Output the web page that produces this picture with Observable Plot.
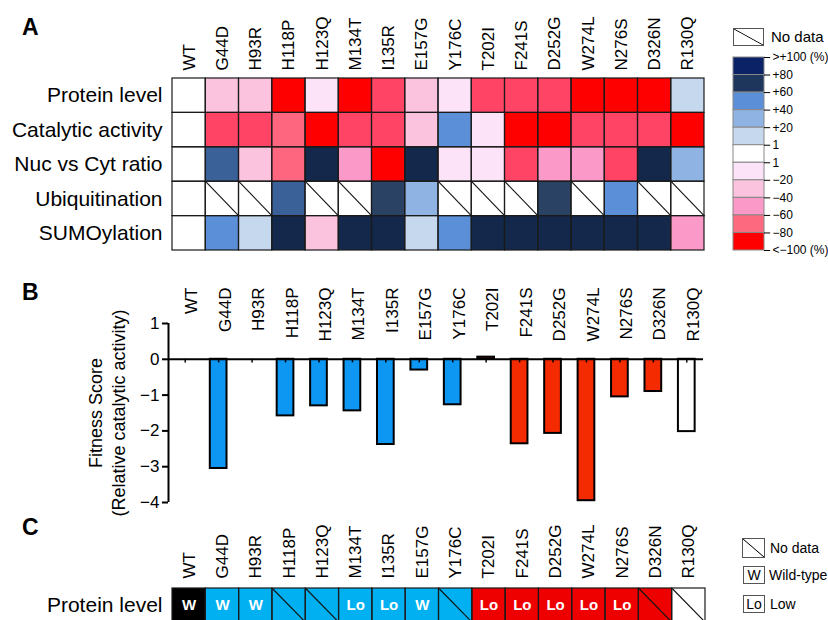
<!DOCTYPE html>
<html><head><meta charset="utf-8">
<script src="https://cdn.jsdelivr.net/npm/d3@7"></script>
<script src="https://cdn.jsdelivr.net/npm/@observablehq/plot@0.6"></script>
<style>
body{margin:0;background:#fff;font-family:"Liberation Sans",Arial,sans-serif;color:#000;}
#fig{position:relative;width:828px;height:620px;overflow:hidden;background:#fff;}
.abs{position:absolute;white-space:nowrap;}
.abs svg{overflow:visible;}
.letter{font-weight:bold;font-size:23px;line-height:1;}
.nd{border:1px solid #555;box-sizing:border-box;background:linear-gradient(to top right,transparent calc(50% - 0.8px),#000 50%,transparent calc(50% + 0.8px));}
.lg{font-size:15px;line-height:1;}
.lgc{font-size:14px;line-height:1;}
.bx{border:1px solid #555;box-sizing:border-box;font-size:14px;display:flex;align-items:center;justify-content:center;}
</style></head><body><div id="fig"></div>
<script>
// ---------- data ----------
const mutants = ["WT","G44D","H93R","H118P","H123Q","M134T","I135R","E157G","Y176C","T202I","F241S","D252G","W274L","N276S","D326N","R130Q"];
const rowLabels = ["Protein level","Catalytic activity","Nuc vs Cyt ratio","Ubiquitination","SUMOylation"];
// percent change vs WT (null = no data)
const proteinLevel = [0,-35,-35,-100,-15,-100,-75,-35,-15,-75,-75,-75,-100,-100,-100,15];
const catalyticActivity = [0,-75,-75,-65,-100,-75,-75,-35,50,-15,-100,-100,-75,-75,-75,-100];
const nucCytRatio = [0,65,-35,-65,90,-50,-100,90,-15,-15,-75,-50,-50,-75,90,35];
const ubiquitination = [0,null,null,65,null,null,75,35,null,null,null,75,null,50,null,null];
const sumoylation = [0,50,15,90,-35,90,90,15,50,90,90,90,90,90,90,-50];
const colorStops = [-100,-75,-65,-50,-35,-15,0,15,35,50,65,75,90,100];
const colorRange = ["#ff0000","#ff4466","#fe6680","#fb9ac8","#fbc3dd","#fde3f8","#ffffff","#c6d8ee","#8fb3e3","#5b8fd7","#3a6198","#2a4263","#13284b","#0b2366"];
const legendLabels = [">+100 (%)","+80","+60","+40","+20","1","1","\u221220","\u221240","\u221260","\u221280","<\u2212100 (%)"];
const legendColors = ["#0b2366","#1e355c","#5b8fd7","#8fb3e3","#c6d8ee","#ffffff","#fde3f8","#fbc3dd","#fb9ac8","#fd6a80","#ff0000"];
// panel B
const fitnessScore = [0,-3.05,null,-1.58,-1.3,-1.44,-2.38,-0.3,-1.27,0.06,-2.36,-2.07,-3.95,-1.05,-0.9,-2.02];
const groups = ["WT","G1","G1","G1","G1","G1","G1","G1","G1","G2","G2","G2","G2","G2","G2","G3"];
const yTicks = [1,0,-1,-2,-3,-4];
// panel C
const proteinClass = ["W","W","W",null,null,"Lo","Lo","W",null,"Lo","Lo","Lo","Lo","Lo",null,null];

const FONT = "Liberation Sans, Arial, sans-serif";
const fig = document.getElementById("fig");
function place(node, left, top){ const d=document.createElement("div"); d.className="abs"; d.style.left=left+"px"; d.style.top=top+"px"; d.appendChild(node); fig.appendChild(d); return d; }
function html(s, left, top, cls){ const d=document.createElement("div"); d.className="abs "+(cls||""); d.style.left=left+"px"; d.style.top=top+"px"; d.innerHTML=s; fig.appendChild(d); return d; }

// ---------- Panel A ----------
const rowsData = [proteinLevel, catalyticActivity, nucCytRatio, ubiquitination, sumoylation];
const cells = [];
rowsData.forEach((arr, r) => arr.forEach((v, i) => cells.push({i, r, v})));
const cellPos = {x1: "i", x2: d => d.i + 1, y1: "r", y2: d => d.r + 1};
const plotA = Plot.plot({
  width: 720, height: 262, marginLeft: 172, marginRight: 16, marginTop: 78, marginBottom: 12,
  x: {domain: [0, mutants.length], axis: null},
  y: {domain: [rowLabels.length, 0], axis: null},
  color: {type: "linear", domain: colorStops, range: colorRange, clamp: true},
  style: {fontFamily: FONT, background: "transparent", color: "#000"},
  marks: [
    Plot.rect(cells, {...cellPos, fill: "white"}),
    Plot.rect(cells.filter(d => d.v != null), {...cellPos, fill: "v"}),
    Plot.link(cells.filter(d => d.v == null), {x1: "i", y1: "r", x2: d => d.i + 1, y2: d => d.r + 1, stroke: "#111", strokeWidth: 1.1}),
    Plot.rect(cells, {...cellPos, fill: "none", stroke: "#1a1a1a", strokeWidth: 1.2}),
    Plot.text(mutants, {x: (d, i) => i + 0.5, y: 0, text: d => d, rotate: -90, textAnchor: "start", dy: -8, fontSize: 17, fill: "#000"}),
    Plot.text(rowLabels, {x: 0, y: (d, i) => i + 0.5, text: d => d, textAnchor: "end", dx: -10, fontSize: 21, fill: "#000"})
  ]
});
place(plotA, 0, 0);

// colour legend
const legendBoxes = legendColors.map((c, k) => ({k, c}));
const legendTicks = legendLabels.map((t, k) => ({k, t}));
const plotLeg = Plot.plot({
  width: 108, height: 270, marginLeft: 13, marginRight: 64, marginTop: 57, marginBottom: 20,
  x: {domain: [0, 1], axis: null},
  y: {domain: [legendColors.length, 0], axis: null},
  style: {fontFamily: FONT, background: "transparent"},
  marks: [
    Plot.rect(legendBoxes, {x1: 0, x2: 1, y1: "k", y2: d => d.k + 1, fill: "c", stroke: "#888", strokeWidth: 1}),
    Plot.ruleY(legendTicks, {y: "k", x1: 1, x2: 1.2, stroke: "#000", strokeWidth: 1}),
    Plot.text(legendTicks, {x: 1, y: "k", text: "t", dx: 8, textAnchor: "start", fontSize: 12, fill: "#000"})
  ]
});
place(plotLeg, 720, 0);
(function(){ const n = html("", 733, 28, "nd"); n.style.width="31px"; n.style.height="18px"; })();
html("No data", 771, 29, "lg");

// ---------- Panel B ----------
const bars = fitnessScore.map((v, i) => ({i, v, g: groups[i]}));
const plotB = Plot.plot({
  width: 720, height: 246, marginLeft: 168, marginRight: 17, marginTop: 59, marginBottom: 8,
  x: {domain: [0, mutants.length], axis: null},
  y: {domain: [-4, 1]},
  color: {type: "ordinal", domain: ["WT","G1","G2","G3"], range: ["#000000","#0d96f2","#f42a00","#ffffff"]},
  style: {fontFamily: FONT, background: "transparent", color: "#000"},
  marks: [
    Plot.rect(bars.filter(d => d.v != null && d.v !== 0), {x1: d => d.i + 0.25, x2: d => d.i + 0.75, y1: 0, y2: "v", fill: "g", stroke: "#000", strokeWidth: 2}),
    Plot.ruleY([0], {x1: 0, x2: mutants.length, stroke: "#000", strokeWidth: 2}),
    Plot.ruleX(bars, {x: d => d.i + 0.5, y1: 0, y2: -0.1, stroke: "#000", strokeWidth: 1.5}),
    Plot.ruleX([0], {y1: -4, y2: 1, stroke: "#000", strokeWidth: 2}),
    Plot.axisY({ticks: yTicks, tickSize: 6, tickPadding: 3, strokeWidth: 2, fontSize: 17, label: null, tickFormat: d => d < 0 ? "\u2212" + Math.abs(d) : String(d)}),
    Plot.text(["Fitness Score\n(Relative catalytic activity)"], {frameAnchor: "left", textAnchor: "middle", lineAnchor: "middle", dx: -62, rotate: -90, fontSize: 18, lineHeight: 1.28, fill: "#000"}),
    Plot.text(mutants, {x: (d, i) => i + 0.5, frameAnchor: "top", dy: -36, text: d => d, rotate: -90, textAnchor: "end", fontSize: 17, fill: "#000"})
  ]
});
place(plotB, 0, 264);

// ---------- Panel C ----------
const cCells = mutants.map((m, i) => ({i, g: groups[i], c: proteinClass[i]}));
const plotC = Plot.plot({
  width: 720, height: 130, marginLeft: 172, marginRight: 15, marginTop: 88, marginBottom: 8,
  x: {domain: [0, mutants.length], axis: null},
  y: {domain: [1, 0], axis: null},
  color: {type: "ordinal", domain: ["WT","G1","G2","G3"], range: ["#000000","#00b0f0","#ee0000","#ffffff"]},
  style: {fontFamily: FONT, background: "transparent", color: "#000"},
  marks: [
    Plot.rect(cCells, {x1: "i", x2: d => d.i + 1, y1: 0, y2: 1, fill: "g"}),
    Plot.link(cCells.filter(d => d.c == null), {x1: "i", y1: 0, x2: d => d.i + 1, y2: 1, stroke: "#111", strokeWidth: 1.1}),
    Plot.rect(cCells, {x1: "i", x2: d => d.i + 1, y1: 0, y2: 1, fill: "none", stroke: "#1a1a1a", strokeWidth: 1.2}),
    Plot.text(cCells.filter(d => d.c != null), {x: d => d.i + 0.5, y: 0.5, text: "c", fill: "#fff", fontWeight: "bold", fontSize: 15}),
    Plot.text(mutants, {x: (d, i) => i + 0.5, y: 0, text: d => d, rotate: -90, textAnchor: "start", dy: -10, fontSize: 17, fill: "#000"}),
    Plot.text(["Protein level"], {x: 0, y: 0.5, text: d => d, textAnchor: "end", dx: -10, fontSize: 21, fill: "#000"})
  ]
});
place(plotC, 0, 500);

// C legend
(function(){
  const a = html("", 742, 538, "nd"); a.style.width = "23px"; a.style.height = "20px";
  html("No data", 770, 541, "lgc");
  const w = html("W", 743, 566, "bx"); w.style.width = "22px"; w.style.height = "18px";
  html("Wild-type", 769, 568, "lgc");
  const l = html("Lo", 743, 595, "bx"); l.style.width = "22px"; l.style.height = "18px";
  html("Low", 770, 597, "lgc");
})();

// panel letters
html("A", 22, 16, "letter");
html("B", 22, 281, "letter");
html("C", 22, 516, "letter");
</script></body></html>
